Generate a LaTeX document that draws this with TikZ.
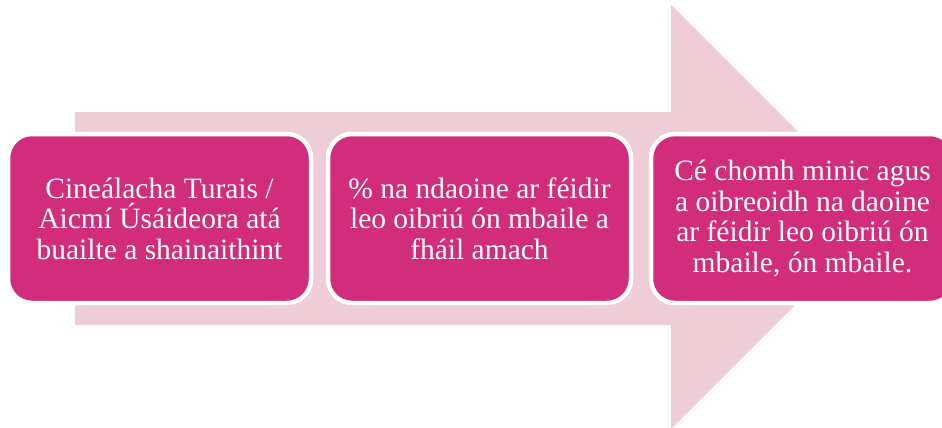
\documentclass[tikz,border=0pt]{standalone}
\usepackage{fontspec}
\setmainfont{Liberation Serif}
\definecolor{boxmag}{HTML}{D12D7A}
\definecolor{arrowpink}{HTML}{EFCDD6}
\begin{document}
\begin{tikzpicture}[x=1pt,y=-1pt,
  stagebox/.style={draw=white, line width=4.5pt, fill=boxmag, rounded corners=24pt,
    minimum width=303pt, minimum height=169pt, inner sep=0pt, align=center,
    text=white, font=\fontsize{29.5}{30.5}\selectfont}]
\useasboundingbox (0,0) rectangle (942,428);
\clip (0,0) rectangle (942,428);
\fill[arrowpink] (75,112) -- (671,112) -- (671,5) -- (883,217) -- (671,429) -- (671,325) -- (75,325) -- cycle;
\node[stagebox] (b1) at (159.5,218.5) {Cineálacha Turais /\\Aicmí Úsáideora atá\\buailte a shainaithint};
\node[stagebox] (b2) at (479.5,218.5) {\% na ndaoine ar féidir\\leo oibriú ón mbaile a\\fháil amach};
\node[stagebox] (b3) at (802.5,218.5) {Cé chomh minic agus\\a oibreoidh na daoine\\ar féidir leo oibriú ón\\mbaile, ón mbaile.};
\end{tikzpicture}
\end{document}
